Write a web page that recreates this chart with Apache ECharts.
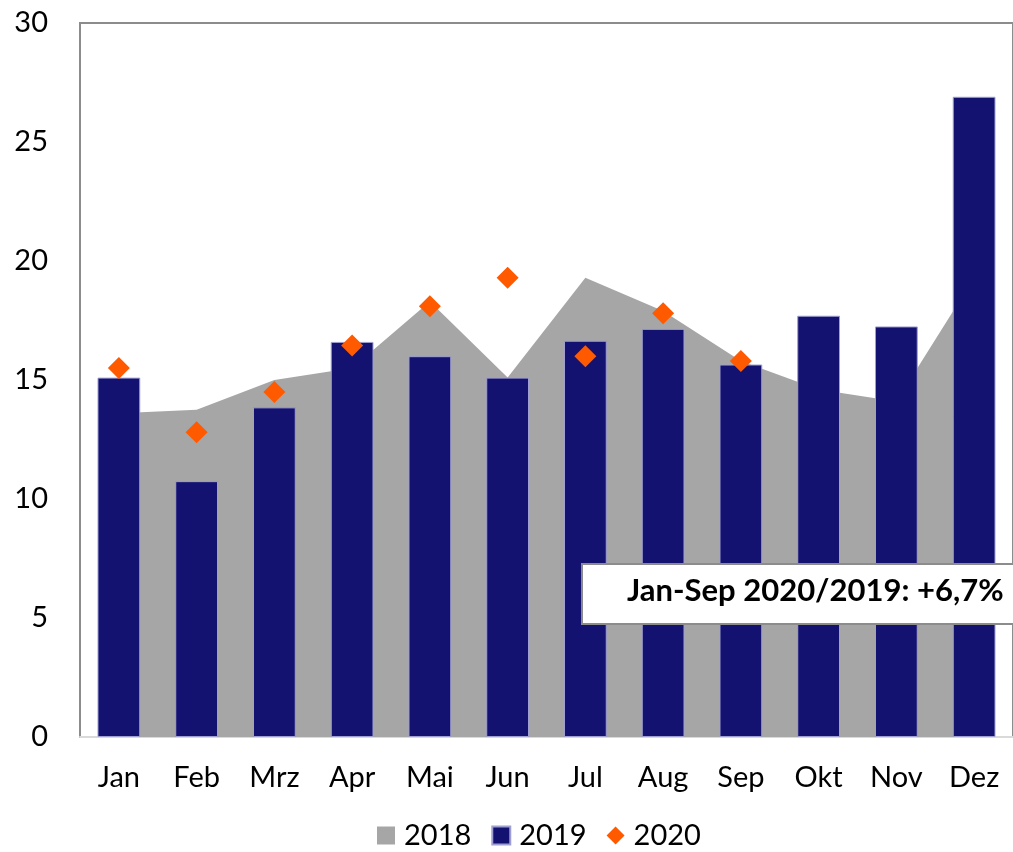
<!DOCTYPE html>
<html>
<head>
<meta charset="utf-8">
<script src="https://cdn.jsdelivr.net/npm/echarts@6/dist/echarts.min.js"></script>
<style>
html, body { margin: 0; padding: 0; background: #fff; }
#main { width: 1013px; height: 852px; }
</style>
</head>
<body>
<div id="main"></div>
<script>
const months = ['Jan', 'Feb', 'Mrz', 'Apr', 'Mai', 'Jun', 'Jul', 'Aug', 'Sep', 'Okt', 'Nov', 'Dez'];
const yTicks = [0, 5, 10, 15, 20, 25, 30];
// 2018 als Fläche, 2019 als Balken, 2020 als Rauten
const v2018 = [13.6, 13.75, 15.0, 15.5, 18.3, 15.1, 19.3, 17.9, 15.8, 14.6, 14.1, 19.3];
const v2019 = [15.1, 10.75, 13.85, 16.6, 16.0, 15.1, 16.65, 17.15, 15.65, 17.7, 17.25, 26.9];
const v2020 = [15.5, 12.8, 14.5, 16.45, 18.1, 19.3, 16.0, 17.8, 15.8];
const noteText = 'Jan-Sep 2020/2019: +6,7%';

const myChart = echarts.init(document.getElementById('main'));
const fontFam = 'Lato, "Open Sans", sans-serif';

const option = {
    animation: false,
    textStyle: { fontFamily: fontFam },
    grid: {
        left: 80, right: -5, top: 23, bottom: 115,
        show: true, borderColor: '#8c8c8c', borderWidth: 2, backgroundColor: 'transparent'
    },
    legend: {
        bottom: -3,
        left: 372,
        itemWidth: 18,
        itemHeight: 18,
        itemGap: 20,
        textStyle: { fontSize: 29, color: '#000', fontFamily: fontFam, padding: [0, 0, 0, 4] },
        data: [
            { name: '2018', icon: 'rect' },
            { name: '2019', icon: 'rect' },
            { name: '2020', icon: 'diamond', itemStyle: { opacity: 1 } }
        ]
    },
    xAxis: {
        type: 'category',
        data: months,
        boundaryGap: true,
        axisLine: { show: true, lineStyle: { color: '#d9d9d9', width: 2 } },
        axisTick: { show: false },
        axisLabel: { fontSize: 29, color: '#000', margin: 26, fontFamily: fontFam }
    },
    yAxis: {
        type: 'value',
        min: yTicks[0],
        max: yTicks[yTicks.length - 1],
        interval: 5,
        splitLine: { show: false },
        axisLine: { show: true, lineStyle: { color: '#8c8c8c', width: 2 } },
        axisTick: { show: false },
        axisLabel: { fontSize: 29, color: '#000', margin: 32, fontFamily: fontFam }
    },
    series: [
        {
            name: '2018',
            type: 'line',
            data: v2018,
            symbol: 'none',
            lineStyle: { width: 0, color: '#a6a6a6' },
            itemStyle: { color: '#a6a6a6' },
            areaStyle: { color: '#a6a6a6', opacity: 1 },
            z: 1
        },
        {
            name: '2019',
            type: 'bar',
            data: v2019,
            barWidth: '55%',
            itemStyle: { color: '#131271', borderColor: '#a0a0d0', borderWidth: 1 },
            z: 3
        },
        {
            name: '2020',
            type: 'scatter',
            data: v2020,
            symbol: 'diamond',
            symbolSize: [22, 22],
            itemStyle: { color: '#ff5a00', opacity: 1 },
            z: 5
        }
    ],
    graphic: [
        {
            type: 'rect',
            left: 581, top: 563,
            shape: { width: 440, height: 60 },
            style: { fill: '#fff', stroke: '#8c8c8c', lineWidth: 2 },
            z: 100
        },
        {
            type: 'text',
            left: 627, top: 575,
            style: { text: noteText, font: 'bold 31px ' + fontFam, fill: '#000' },
            z: 101
        }
    ]
};
myChart.setOption(option);
</script>
</body>
</html>
